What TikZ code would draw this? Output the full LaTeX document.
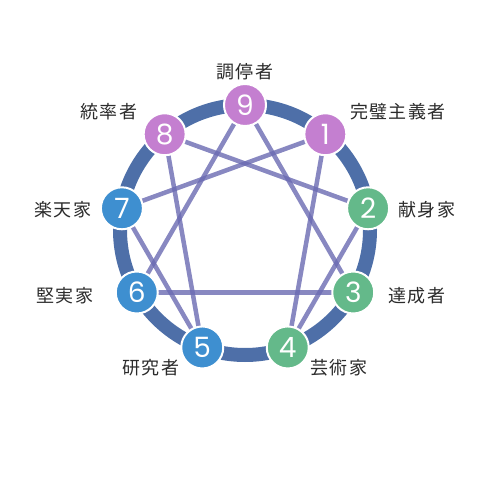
\documentclass[tikz,border=0pt]{standalone}
\usepackage{fontspec}
\setsansfont{Poppins}
\newfontfamily\jpfont[LetterSpace=6]{Noto Sans CJK JP}
\definecolor{ringc}{HTML}{4E6FA8}
\definecolor{chordc}{HTML}{6A6AB2}
\definecolor{headc}{HTML}{C47FD0}
\definecolor{heartc}{HTML}{64B98A}
\definecolor{gutc}{HTML}{3E8FD0}
\definecolor{textc}{HTML}{2B2B2B}
\tikzset{
  num/.style={circle, draw=white, line width=2pt, minimum size=42pt, inner sep=0pt,
    text=white, font=\sffamily\fontsize{28}{28}\selectfont},
  lbl/.style={text=textc, font=\jpfont\fontsize{18}{18}\selectfont},
  chord/.style={draw=chordc, line width=4.5pt, opacity=0.8}
}
\begin{document}
\begin{tikzpicture}[x=1pt, y=1pt]
    \useasboundingbox (-245,-246) rectangle (244,230);
    % ring
    \draw[ringc, line width=14pt] (0,0) circle (125);
    \foreach \k in {1,...,9}
        \coordinate (p\k) at (90-40*\k:125);
    % inner lines
    \foreach \a/\b in {1/4, 4/2, 2/8, 8/5, 5/7, 7/1, 9/3, 3/6, 6/9}
        \draw[chord] (p\a) -- (p\b);
    % points
    \foreach \k/\c in {9/headc, 1/headc, 8/headc, 2/heartc, 3/heartc, 4/heartc, 5/gutc, 6/gutc, 7/gutc}
        \node[num, fill=\c] (n\k) at (p\k) {\k};
    % names
    \node[lbl] (l9) at (0,158) {調停者};
    \node[lbl] (l1) at (153,118) {完璧主義者};
    \node[lbl] (l2) at (182,20) {献身家};
    \node[lbl] (l3) at (172,-66) {達成者};
    \node[lbl] (l4) at (94,-138) {芸術家};
    \node[lbl] (l5) at (-94,-138) {研究者};
    \node[lbl] (l6) at (-180,-66) {堅実家};
    \node[lbl] (l7) at (-182,20) {楽天家};
    \node[lbl] (l8) at (-136,118) {統率者};
\end{tikzpicture}
\end{document}
